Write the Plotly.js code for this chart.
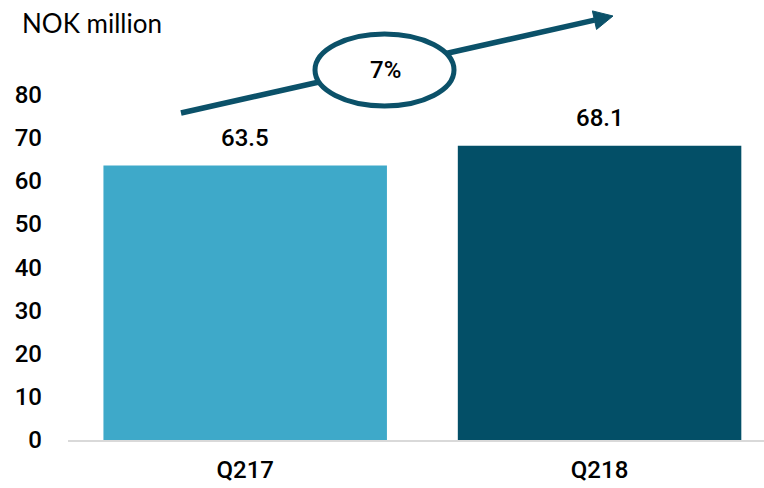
<!DOCTYPE html>
<html><head><meta charset="utf-8">
<script src="https://cdn.plot.ly/plotly-3.0.1.min.js"></script>
<style>html,body{margin:0;padding:0;background:#fff;overflow:hidden}</style>
</head><body>
<div id="chart" style="width:764px;height:488px"></div>
<script>
const categories = ["Q217", "Q218"];
const values = [63.5, 68.1];
const valueLabels = ["63.5", "68.1"];
const barColors = ["#3EA9C9", "#034F67"];
const tickVals = [0, 10, 20, 30, 40, 50, 60, 70, 80];
const unitLabel = "NOK million";
const growthLabel = "7%";

const W = 764, H = 488;
const M = {l: 68, r: 0, t: 51, b: 48};
const PW = W - M.l - M.r, PH = H - M.t - M.b;
const px = x => (x - M.l) / PW;
const py = y => (H - M.b - y) / PH;
const dark = "#0B5169";
const numFont = {family: "Roboto", size: 24, color: "#000", weight: 500};

// arrow geometry (decoration)
const tail = [181, 113], tip = [613, 16];
const dx = tip[0] - tail[0], dy = tip[1] - tail[1];
const len = Math.hypot(dx, dy), ux = dx / len, uy = dy / len;
const hl = 19, hw = 9.5;
const base = [tip[0] - ux * hl, tip[1] - uy * hl];
const p1 = [base[0] - uy * hw, base[1] + ux * hw];
const p2 = [base[0] + uy * hw, base[1] - ux * hw];
const pathPt = p => px(p[0]) + "," + py(p[1]);

const trace = {
  type: "bar", x: categories, y: values, width: 0.8,
  marker: {color: barColors}, hoverinfo: "skip"
};

const layout = {
  width: W, height: H, margin: M, showlegend: false,
  paper_bgcolor: "#fff", plot_bgcolor: "#fff",
  font: {family: "Roboto, sans-serif", size: 24, color: "#000"},
  xaxis: {
    range: [-0.5, 1.464], showgrid: false, zeroline: false,
    showline: true, linecolor: "#D9D9D9", linewidth: 1.5,
    ticks: "", ticklabelstandoff: 8,
    tickfont: numFont
  },
  yaxis: {
    range: [0, 90], showgrid: false, zeroline: false, showline: false,
    tickvals: tickVals, ticks: "", ticklabelstandoff: 25,
    tickfont: numFont
  },
  shapes: [
    {type: "line", xref: "paper", yref: "paper",
     x0: px(tail[0]), y0: py(tail[1]), x1: px(base[0]), y1: py(base[1]),
     line: {color: dark, width: 5.5}},
    {type: "path", xref: "paper", yref: "paper",
     path: "M" + pathPt(tip) + " L" + pathPt(p1) + " L" + pathPt(p2) + " Z",
     fillcolor: dark, line: {color: dark, width: 1}},
    {type: "circle", xref: "paper", yref: "paper",
     x0: px(315), x1: px(454), y0: py(34), y1: py(106),
     fillcolor: "#fff", line: {color: dark, width: 5}}
  ],
  annotations: [
    {xref: "paper", yref: "paper", x: px(20), y: py(23), xanchor: "left", yanchor: "middle",
     text: unitLabel, showarrow: false, font: {family: "Lato", size: 26, color: "#000"}},
    {xref: "paper", yref: "paper", x: px(385), y: py(70), xanchor: "center", yanchor: "middle",
     text: growthLabel, showarrow: false, font: numFont}
  ].concat(categories.map((c, i) => ({
     x: c, y: values[i], xref: "x", yref: "y", text: valueLabels[i],
     yanchor: "bottom", yshift: 12, showarrow: false,
     font: numFont
  })))
};

Plotly.newPlot("chart", [trace], layout, {staticPlot: true, displayModeBar: false});
</script>
</body></html>
